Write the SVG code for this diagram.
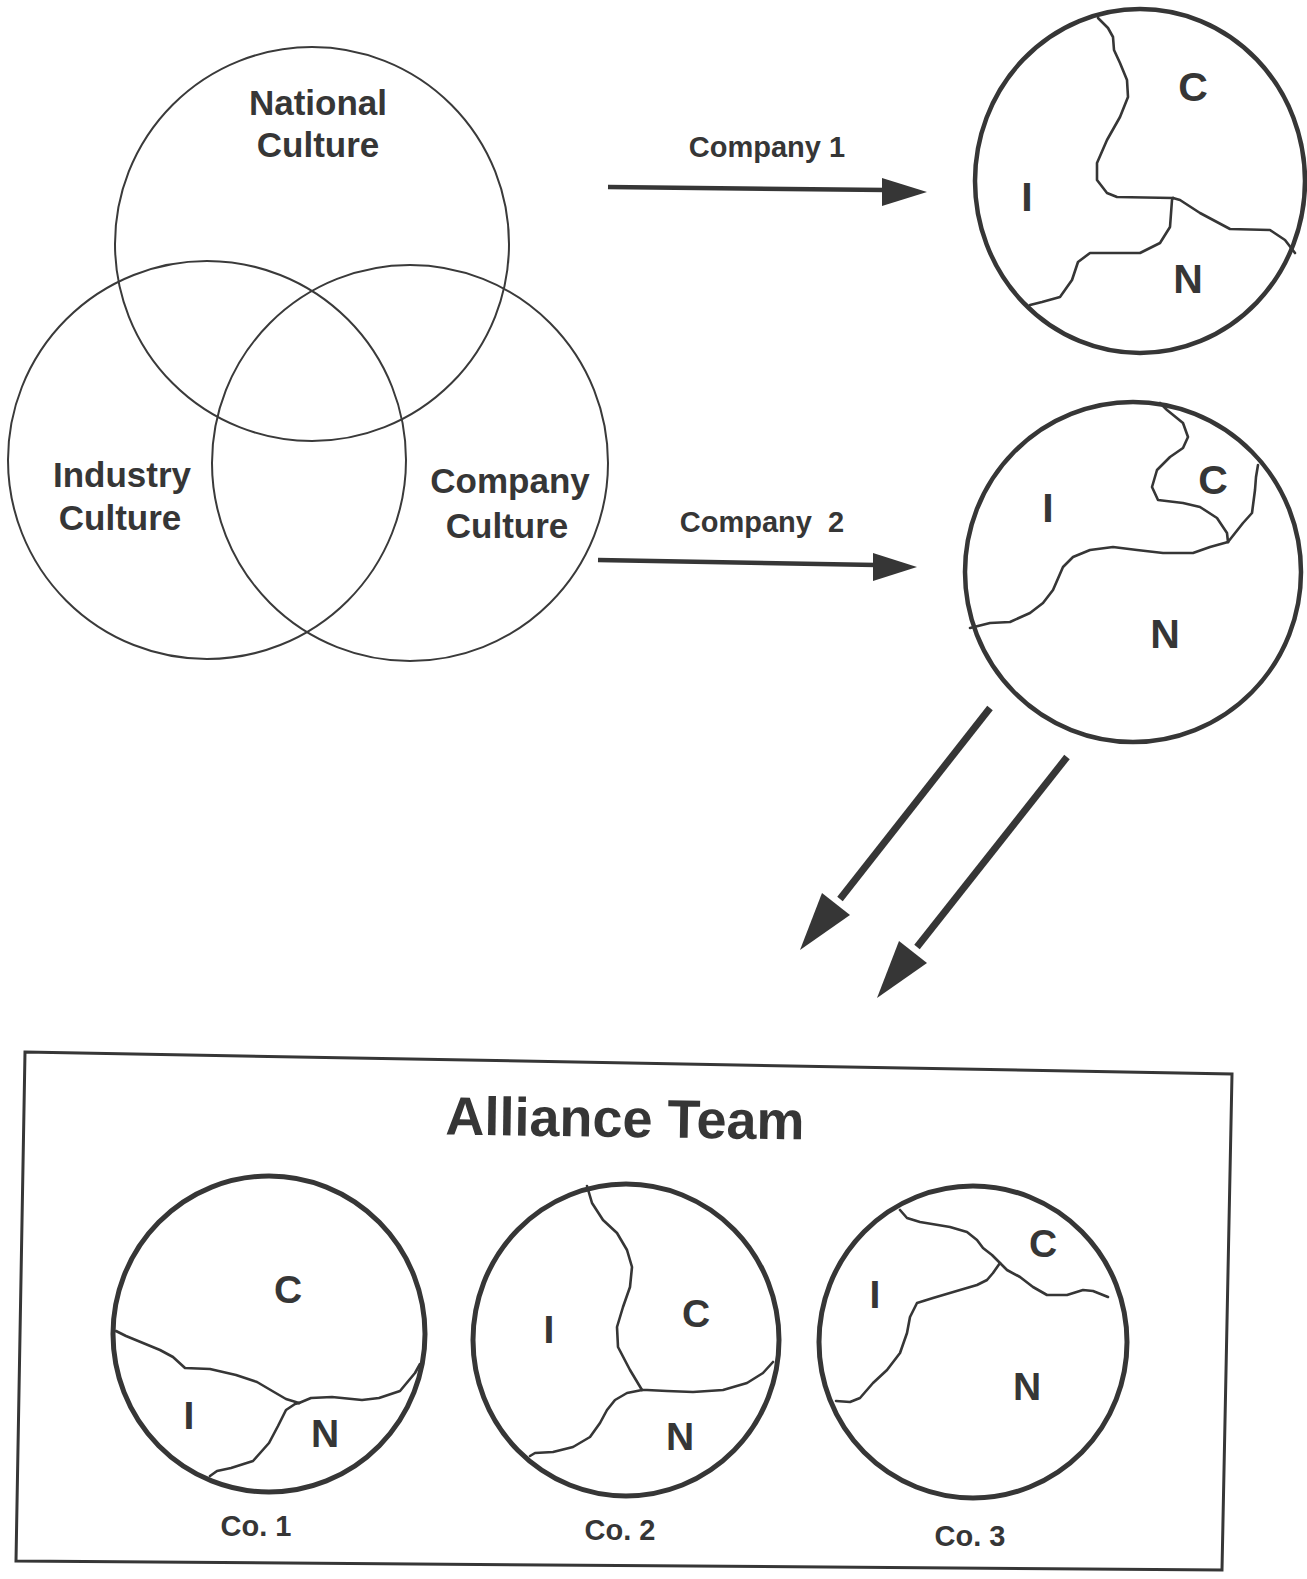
<svg xmlns="http://www.w3.org/2000/svg" width="1307" height="1579" viewBox="0 0 1307 1579">
<style>
  text { font-family: "Liberation Sans", Arial, sans-serif; font-weight: bold; fill: #363636; }
  .venn { fill: none; stroke: #3a3a3a; stroke-width: 2; }
  .big { fill: none; stroke: #363636; stroke-width: 4.5; }
  .small { fill: none; stroke: #363636; stroke-width: 5; }
  .div { fill: none; stroke: #363636; stroke-width: 2.6; stroke-linejoin: round; stroke-linecap: round; }
  .vt { font-size: 35px; text-anchor: middle; }
  .lbl { font-size: 29px; text-anchor: middle; white-space: pre; }
  .L { font-size: 41px; text-anchor: middle; }
  .S { font-size: 39px; text-anchor: middle; }
  .co { font-size: 29px; text-anchor: middle; }
  .shaft { stroke: #363636; stroke-width: 4.5; fill: none; }
  .dshaft { stroke: #363636; stroke-width: 7; fill: none; }
  .head { fill: #363636; }
</style>
<rect width="1307" height="1579" fill="#ffffff"/>

<g id="venn">
  <g id="national-culture">
    <circle class="venn" cx="312" cy="244" r="197"/>
    <text class="vt" x="318" y="115">National</text>
    <text class="vt" x="318" y="157">Culture</text>
  </g>
  <g id="industry-culture">
    <circle class="venn" cx="207" cy="460" r="199"/>
    <text class="vt" x="122" y="487">Industry</text>
    <text class="vt" x="120" y="530">Culture</text>
  </g>
  <g id="company-culture">
    <circle class="venn" cx="410" cy="463" r="198"/>
    <text class="vt" x="510" y="493">Company</text>
    <text class="vt" x="507" y="538">Culture</text>
  </g>
</g>

<g id="company1-profile">
  <ellipse class="big" cx="1140" cy="181" rx="165" ry="172"/>
  <path class="div" d="M1098,18 L1108,28 L1113,37 L1114,50 L1120,63 L1127,80 L1128,97 L1120,117 L1107,140 L1097,163 L1097,180 L1107,193 L1117,197 L1173,198"/>
  <path class="div" d="M1173,198 L1180,200 L1200,213 L1230,229 L1270,230 L1285,240 L1295,253"/>
  <path class="div" d="M1173,198 L1172,200 L1170,227 L1160,243 L1140,253 L1090,253 L1078,262 L1072,280 L1060,297 L1042,302 L1030,305"/>
  <text class="L" x="1193" y="101">C</text>
  <text class="L" x="1027" y="211">I</text>
  <text class="L" x="1188" y="293">N</text>
</g>

<g id="company2-profile">
  <ellipse class="big" cx="1133" cy="572" rx="168" ry="170"/>
  <path class="div" d="M1160,403 L1167,410 L1183,423 L1188,437 L1183,448 L1170,457 L1157,470 L1152,487 L1158,500 L1183,503 L1200,507 L1217,518 L1227,533 L1228,542"/>
  <path class="div" d="M1258,465 L1256,477 L1255,490 L1252,513 L1243,523 L1228,542"/>
  <path class="div" d="M1228,542 L1210,547 L1193,553 L1163,553 L1137,550 L1113,547 L1090,550 L1073,557 L1063,567 L1053,590 L1043,603 L1030,613 L1010,622 L990,623 L970,628"/>
  <text class="L" x="1213" y="494">C</text>
  <text class="L" x="1048" y="522">I</text>
  <text class="L" x="1165" y="648">N</text>
</g>

<g id="connectors">
  <g id="arrow-company1">
    <path class="shaft" d="M608,187 L886,190"/>
    <polygon class="head" points="927,192 882,178 882,206"/>
    <text class="lbl" x="767" y="157">Company 1</text>
  </g>
  <g id="arrow-company2">
    <path class="shaft" d="M598,560 L876,565"/>
    <polygon class="head" points="917,567 873,553 873,581"/>
    <text class="lbl" x="762" y="532">Company  2</text>
  </g>
  <g id="arrow-down-1">
    <path class="dshaft" d="M990,708 L840,899"/>
    <polygon class="head" points="800,950 822,893 850,915"/>
  </g>
  <g id="arrow-down-2">
    <path class="dshaft" d="M1067,757 L917,947"/>
    <polygon class="head" points="877,998 899,941 927,963"/>
  </g>
</g>

<g id="alliance-team">
  <polygon points="25,1052 1232,1074 1222,1570 16,1561" fill="none" stroke="#363636" stroke-width="3"/>
  <text x="625" y="1137" font-size="54" text-anchor="middle" transform="rotate(0.8 626 1120)">Alliance Team</text>

  <g id="co1">
    <ellipse class="small" cx="269" cy="1334" rx="156" ry="158"/>
    <path class="div" d="M116,1331 L126,1336 L160,1350 L173,1357 L185,1368 L210,1369 L236,1375 L257,1382 L274,1392 L286,1399 L299,1403"/>
    <path class="div" d="M299,1403 L311,1398 L332,1397 L362,1400 L379,1398 L400,1391 L415,1373 L420,1364"/>
    <path class="div" d="M299,1403 L295,1404 L286,1410 L278,1426 L269,1443 L253,1461 L231,1468 L217,1471 L210,1476"/>
    <text class="S" x="288" y="1303">C</text>
    <text class="S" x="189" y="1429">I</text>
    <text class="S" x="325" y="1447">N</text>
    <text class="co" x="256" y="1536">Co. 1</text>
  </g>

  <g id="co2">
    <ellipse class="small" cx="626" cy="1340" rx="153" ry="156"/>
    <path class="div" d="M587,1186 L592,1203 L603,1220 L617,1233 L627,1250 L632,1267 L630,1287 L623,1307 L617,1327 L618,1347 L630,1370 L642,1390"/>
    <path class="div" d="M642,1390 L647,1390 L667,1391 L693,1392 L723,1390 L747,1383 L763,1373 L773,1362"/>
    <path class="div" d="M642,1390 L627,1393 L615,1400 L607,1410 L600,1423 L590,1437 L573,1447 L553,1452 L535,1453 L530,1456"/>
    <text class="S" x="549" y="1343">I</text>
    <text class="S" x="696" y="1327">C</text>
    <text class="S" x="680" y="1450">N</text>
    <text class="co" x="620" y="1540">Co. 2</text>
  </g>

  <g id="co3">
    <ellipse class="small" cx="973" cy="1342" rx="154" ry="156"/>
    <path class="div" d="M900,1210 L907,1218 L920,1222 L950,1227 L967,1232 L977,1240 L983,1248 L992,1255 L1000,1263 L1007,1270 L1020,1277 L1033,1287 L1047,1295 L1067,1295 L1083,1290 L1093,1291 L1108,1297"/>
    <path class="div" d="M1000,1263 L993,1273 L987,1280 L977,1285 L960,1290 L933,1298 L917,1303 L910,1317 L907,1333 L900,1353 L887,1370 L873,1383 L860,1398 L850,1402 L836,1401"/>
    <text class="S" x="1043" y="1257">C</text>
    <text class="S" x="875" y="1308">I</text>
    <text class="S" x="1027" y="1400">N</text>
    <text class="co" x="970" y="1546">Co. 3</text>
  </g>
</g>
</svg>
